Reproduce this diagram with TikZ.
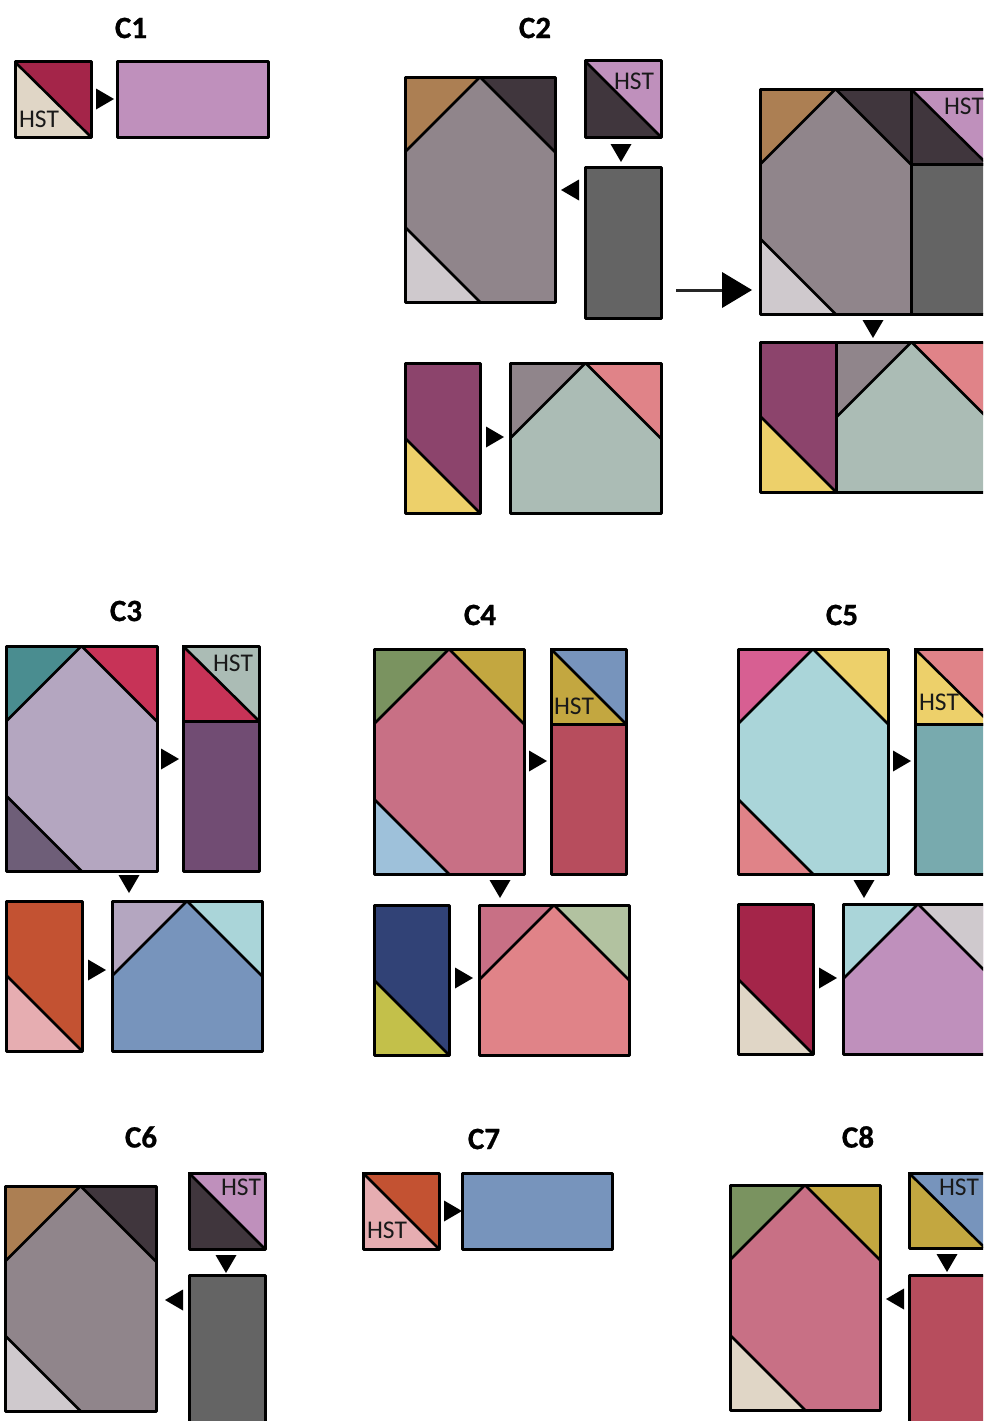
\documentclass[tikz,border=0pt]{standalone}
\usepackage{fontspec}
\setmainfont{Carlito}[BoldFeatures={FakeBold=0.8}]
\usetikzlibrary{arrows.meta}
\definecolor{brownc}{HTML}{AC7F53}
\definecolor{darkc}{HTML}{40363D}
\definecolor{grayc}{HTML}{90858B}
\definecolor{lightc}{HTML}{CFC9CD}
\definecolor{purplec}{HTML}{BF90BC}
\definecolor{slatec}{HTML}{646464}
\definecolor{wine}{HTML}{8C446C}
\definecolor{yellowc}{HTML}{EDD06A}
\definecolor{salmon}{HTML}{E08388}
\definecolor{sage}{HTML}{ABBCB5}
\definecolor{crimson}{HTML}{A42549}
\definecolor{cream}{HTML}{E0D6C6}
\definecolor{tealc}{HTML}{4A8D90}
\definecolor{redc}{HTML}{C73357}
\definecolor{lavender}{HTML}{B4A6C0}
\definecolor{mauve}{HTML}{6E5E78}
\definecolor{plum}{HTML}{714C73}
\definecolor{orangec}{HTML}{C35232}
\definecolor{pinkc}{HTML}{E6ADB1}
\definecolor{bluec}{HTML}{7794BC}
\definecolor{paleteal}{HTML}{AAD5D9}
\definecolor{greenc}{HTML}{7A9360}
\definecolor{goldc}{HTML}{C3A740}
\definecolor{skyc}{HTML}{9EC1DA}
\definecolor{rosec}{HTML}{C87085}
\definecolor{brick}{HTML}{B74D5D}
\definecolor{navy}{HTML}{314276}
\definecolor{limec}{HTML}{C3C04A}
\definecolor{mossc}{HTML}{B2C2A0}
\definecolor{magentac}{HTML}{D75F92}
\definecolor{tealdark}{HTML}{78AAAE}
\tikzset{
  piece/.style={draw=black,line width=2.6pt,line join=round,line cap=round},
  outline/.style={draw=black,line width=3pt,line join=round},
  marker/.style={fill=black,draw=none},
  hstlabel/.style={font=\fontsize{25.5}{26}\selectfont,inner sep=0pt,text=black!90},
  title/.style={font=\bfseries\fontsize{31}{32}\selectfont,inner sep=0pt,text=black},
  bigarrow/.style={line width=3pt,draw=black!85,-{Triangle[length=30pt,width=36pt,line width=0pt,fill=black]}}
}
% hexagon block: x1 y1 x2 y2 top-left top-right bottom-left body
\newcommand\hexblock[8]{%
  \path[fill=#8] (#1,#2) -- (#3,#2) -- (#3,#4) -- (#1,#4) -- cycle;
  \path[fill=#5] (#1,#2) -- ({(#1+#3)/2},#2) -- (#1,{#2+(#3-#1)/2}) -- cycle;
  \path[fill=#6] (#3,#2) -- ({(#1+#3)/2},#2) -- (#3,{#2+(#3-#1)/2}) -- cycle;
  \path[fill=#7] (#1,#4) -- ({(#1+#3)/2},#4) -- (#1,{#4-(#3-#1)/2}) -- cycle;
  \path[piece] (#1,{#2+(#3-#1)/2}) -- ({(#1+#3)/2},#2) -- (#3,{#2+(#3-#1)/2});
  \path[piece] (#1,{#4-(#3-#1)/2}) -- ({(#1+#3)/2},#4);
  \path[outline] (#1,#2) -- (#3,#2) -- (#3,#4) -- (#1,#4) -- cycle;
}
% half-square triangle: x1 y1 x2 y2 lower-left upper-right
\newcommand\hstblock[6]{%
  \path[fill=#5] (#1,#2) -- (#3,#4) -- (#1,#4) -- cycle;
  \path[fill=#6] (#1,#2) -- (#3,#4) -- (#3,#2) -- cycle;
  \path[piece] (#1,#2) -- (#3,#4);
  \path[outline] (#1,#2) -- (#3,#2) -- (#3,#4) -- (#1,#4) -- cycle;
}
\newcommand\plainblock[5]{\path[outline,fill=#5] (#1,#2) -- (#3,#2) -- (#3,#4) -- (#1,#4) -- cycle;}
% bar with a triangle at the lower left: x1 y1 x2 y2 body triangle
\newcommand\barblock[6]{%
  \path[fill=#5] (#1,#2) -- (#3,#2) -- (#3,#4) -- (#1,#4) -- cycle;
  \path[fill=#6] (#1,#4) -- (#3,#4) -- (#1,{#4-(#3-#1)}) -- cycle;
  \path[piece] (#3,#4) -- (#1,{#4-(#3-#1)});
  \path[outline] (#1,#2) -- (#3,#2) -- (#3,#4) -- (#1,#4) -- cycle;
}
% house: x1 y1 x2 y2 top-left top-right body
\newcommand\houseblock[7]{%
  \path[fill=#7] (#1,#2) -- (#3,#2) -- (#3,#4) -- (#1,#4) -- cycle;
  \path[fill=#5] (#1,#2) -- ({(#1+#3)/2},#2) -- (#1,{#2+(#3-#1)/2}) -- cycle;
  \path[fill=#6] (#3,#2) -- ({(#1+#3)/2},#2) -- (#3,{#2+(#3-#1)/2}) -- cycle;
  \path[piece] (#1,{#2+(#3-#1)/2}) -- ({(#1+#3)/2},#2) -- (#3,{#2+(#3-#1)/2});
  \path[outline] (#1,#2) -- (#3,#2) -- (#3,#4) -- (#1,#4) -- cycle;
}
\newcommand\tipright[2]{\path[marker] (#1,#2-10.5) -- (#1+18,#2) -- (#1,#2+10.5) -- cycle;}
\newcommand\tipleft[2]{\path[marker] (#1,#2-10.5) -- (#1-18,#2) -- (#1,#2+10.5) -- cycle;}
\newcommand\tipdown[2]{\path[marker] (#1-10.5,#2) -- (#1,#2+18) -- (#1+10.5,#2) -- cycle;}
\begin{document}
\begin{tikzpicture}[x=1pt,y=-1pt]
\useasboundingbox (0,0) rectangle (983,1421);
\clip (0,0) rectangle (983,1421);
\fill[white] (0,0) rectangle (983,1421);

% C1
\node[title] (c1) at (131,28) {C1};
\hstblock{15}{62}{91}{137}{cream}{crimson}
\node[hstlabel] (h1) at (39,119) {HST};
\tipright{96}{99}
\plainblock{117}{62}{268}{137}{purplec}

% C2
\node[title] (c2) at (535,28) {C2};
\hexblock{405}{77}{555}{302}{brownc}{darkc}{lightc}{grayc}
\hstblock{585}{61}{661}{137}{darkc}{purplec}
\node[hstlabel] (h2) at (634,81) {HST};
\plainblock{585}{167}{661}{318}{slatec}
\tipdown{621}{144}
\tipleft{579}{190}
\barblock{405}{363}{480}{513}{wine}{yellowc}
\tipright{486}{437}
\houseblock{510}{363}{661}{513}{grayc}{salmon}{sage}
\coordinate (bs) at (676,290);
\coordinate (be) at (752,290);
\draw[bigarrow] (bs) -- (be);
\hexblock{760}{89}{911}{314}{brownc}{darkc}{lightc}{grayc}
\hstblock{911}{89}{987}{164}{darkc}{purplec}
\node[hstlabel] (h2b) at (964,106) {HST};
\plainblock{911}{164}{987}{314}{slatec}
\tipdown{873}{320}
\barblock{760}{342}{836}{492}{wine}{yellowc}
\houseblock{836}{342}{987}{492}{grayc}{salmon}{sage}

% C3
\node[title] (c3) at (126,611) {C3};
\hexblock{6}{646}{157}{871}{tealc}{redc}{mauve}{lavender}
\hstblock{183}{646}{259}{721}{redc}{sage}
\node[hstlabel] (h3) at (233,663) {HST};
\plainblock{183}{721}{259}{871}{plum}
\tipright{161}{759}
\tipdown{129}{875}
\barblock{6}{901}{82}{1051}{orangec}{pinkc}
\tipright{88}{970}
\houseblock{112}{901}{262}{1051}{lavender}{paleteal}{bluec}

% C4
\node[title] (c4) at (480,615) {C4};
\hexblock{374}{649}{524}{874}{greenc}{goldc}{skyc}{rosec}
\hstblock{551}{649}{626}{724}{goldc}{bluec}
\node[hstlabel] (h4) at (574,706) {HST};
\plainblock{551}{724}{626}{874}{brick}
\tipright{529}{761}
\tipdown{500}{880}
\barblock{374}{905}{449}{1055}{navy}{limec}
\tipright{455}{978}
\houseblock{479}{905}{629}{1055}{rosec}{mossc}{salmon}

% C5
\node[title] (c5) at (842,615) {C5};
\hexblock{738}{649}{888}{874}{magentac}{yellowc}{salmon}{paleteal}
\hstblock{915}{649}{991}{724}{yellowc}{salmon}
\node[hstlabel] (h5) at (939,702) {HST};
\plainblock{915}{724}{991}{874}{tealdark}
\tipright{893}{761}
\tipdown{864}{880}
\barblock{738}{904}{813}{1054}{crimson}{cream}
\tipright{819}{978}
\houseblock{843}{904}{993}{1054}{paleteal}{lightc}{purplec}

% C6
\node[title] (c6) at (141,1137) {C6};
\hexblock{5}{1186}{156}{1411}{brownc}{darkc}{lightc}{grayc}
\hstblock{189}{1173}{265}{1249}{darkc}{purplec}
\node[hstlabel] (h6) at (241,1187) {HST};
\plainblock{189}{1275}{265}{1426}{slatec}
\tipdown{226}{1255}
\tipleft{183}{1300}

% C7
\node[title] (c7) at (484,1139) {C7};
\hstblock{363}{1173}{439}{1249}{pinkc}{orangec}
\node[hstlabel] (h7) at (387,1230) {HST};
\tipright{444}{1211}
\plainblock{462}{1173}{612}{1249}{bluec}

% C8
\node[title] (c8) at (858,1137) {C8};
\hexblock{730}{1185}{880}{1410}{greenc}{goldc}{cream}{rosec}
\hstblock{909}{1173}{985}{1248}{goldc}{bluec}
\node[hstlabel] (h8) at (959,1187) {HST};
\plainblock{909}{1275}{985}{1426}{brick}
\tipdown{947}{1254}
\tipleft{904}{1299}
\end{tikzpicture}
\end{document}
